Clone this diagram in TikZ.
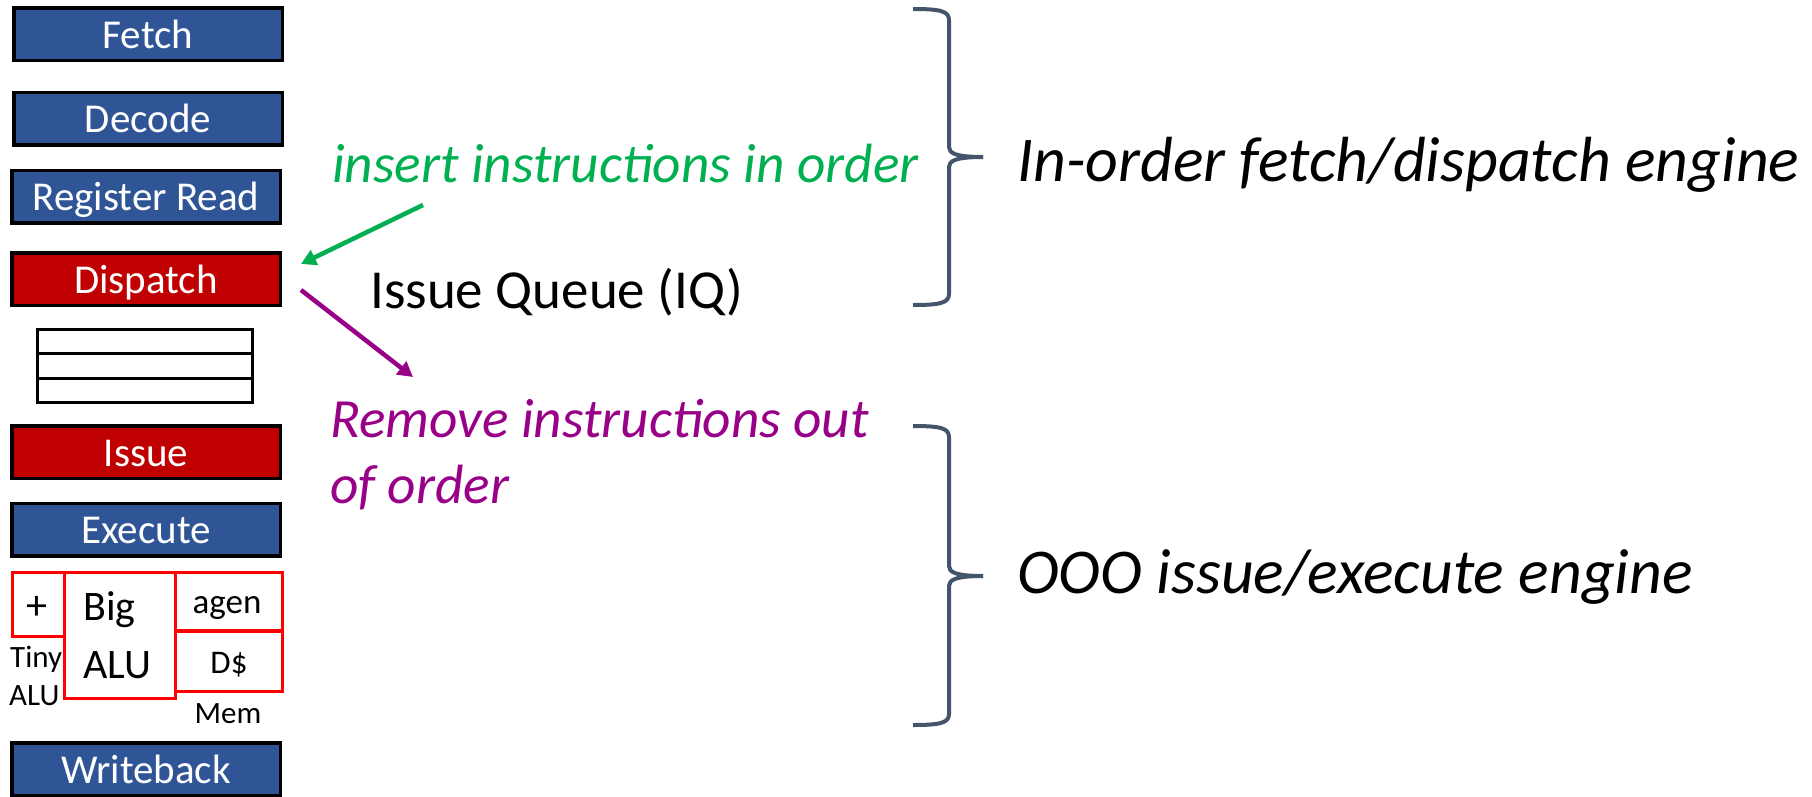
\documentclass[tikz,border=0pt]{standalone}
\usepackage{fontspec}
\setmainfont{Carlito}
\usetikzlibrary{arrows.meta}

\definecolor{stageblue}{HTML}{2F5597}
\definecolor{stagered}{HTML}{C00000}
\definecolor{unitred}{HTML}{FF0000}
\definecolor{insgreen}{HTML}{00B050}
\definecolor{rmpurple}{HTML}{990088}
\definecolor{bracegray}{HTML}{44546A}

\tikzset{
  stage/.style={draw=black, line width=3.5pt, minimum width=268.5pt, minimum height=52.5pt,
    inner sep=0pt, text=white, font=\fontsize{41}{49}\selectfont, text height=28.5pt, text depth=0pt},
  bluestage/.style={stage, fill=stageblue},
  redstage/.style={stage, fill=stagered},
  qrow/.style={draw=black, line width=3pt, minimum width=215pt, minimum height=24.33pt, inner sep=0pt},
  unitbox/.style={draw=unitred, line width=3pt, inner sep=0pt},
  smalllbl/.style={inner sep=0pt, font=\fontsize{31}{37}\selectfont},
  biglbl/.style={inner sep=0pt, font=\fontsize{42}{50}\selectfont},
  note/.style={inner sep=0pt, anchor=base west, font=\fontsize{55}{66}\selectfont},
  slanted note/.style={note, font=\fontsize{55.3}{66}\selectfont\itshape},
  engine/.style={inner sep=0pt, anchor=base west, font=\fontsize{63.8}{76}\selectfont\itshape},
  arr/.style={line width=4.5pt, -{Triangle[length=15pt,width=16pt]}},
  brace/.style={draw=bracegray, line width=4pt, line join=round}
}

\begin{document}
\begin{tikzpicture}[x=1pt, y=-1pt]
\useasboundingbox (0,0) rectangle (1812,796);

% pipeline stages
\node[bluestage] (fetch)    at (148,34)    {Fetch};
\node[bluestage] (decode)   at (148,118.5) {Decode};
\node[bluestage] (regread)  at (146,196.5) {Register Read};
\node[redstage]  (dispatch) at (146,279)   {Dispatch};

% issue queue entries
\node[qrow] (iq1) at (145,341.7) {};
\node[qrow] (iq2) at (145,366)   {};
\node[qrow] (iq3) at (145,390.3) {};

\node[redstage]  (issue)    at (146,452)   {Issue};
\node[bluestage] (execute)  at (146,529.5) {Execute};
\node[bluestage] (wb)       at (146,769)   {Writeback};

% functional units
\node[unitbox, minimum width=51.5pt, minimum height=64pt] (tinyalu) at (38.25,604.5) {};
\node[biglbl] (plus) at (37,608) {+};
\node[unitbox, minimum width=111pt, minimum height=125.5pt] (bigalu) at (119.5,635.25) {};
\node[unitbox, minimum width=107pt, minimum height=57.5pt] (agen) at (228.5,601.25) {};
\node[unitbox, minimum width=107pt, minimum height=60pt] (dcache) at (228.5,661) {};

\node[smalllbl, anchor=base west] (tinylbl) at (10,667) {Tiny};
\node[smalllbl, anchor=base west] (tinylbl2) at (9,705) {ALU};
\node[biglbl, anchor=base west] (biglbl1) at (83,620) {Big};
\node[biglbl, anchor=base west] (biglbl2) at (83,678) {ALU};
\node[smalllbl, anchor=base, font=\fontsize{35}{42}\selectfont] (agenlbl) at (227,613) {agen};
\node[smalllbl, anchor=base, font=\fontsize{33}{40}\selectfont] (dlbl) at (229,673) {D\$};
\node[smalllbl, anchor=base] (memlbl) at (228,723) {Mem};

% annotations
\node[slanted note, text=insgreen] (ins) at (332,182) {insert instructions in order};
\node[note] (iqlbl) at (370,308) {Issue Queue (IQ)};
\node[slanted note, text=rmpurple] (rm1) at (330,437) {Remove instructions out};
\node[slanted note, text=rmpurple] (rm2) at (330,503) {of order};

\coordinate (instail) at (423,205);
\coordinate (instip)  at (301,264);
\coordinate (rmtail)  at (301,290);
\coordinate (rmtip)   at (413,377);
\draw[arr, insgreen] (instail) -- (instip);
\draw[arr, rmpurple] (rmtail) -- (rmtip);

% braces
\draw[brace] (913,9) .. controls (940,9) and (949,11) .. (949,20) -- (949,147)
  .. controls (949,153) and (955,157) .. (983,157);
\draw[brace] (983,157) .. controls (955,157) and (949,161) .. (949,167) -- (949,294)
  .. controls (949,303) and (940,305) .. (913,305);

\draw[brace] (913,426) .. controls (940,426) and (949,428) .. (949,437) -- (949,566)
  .. controls (949,572) and (955,576) .. (983,576);
\draw[brace] (983,576) .. controls (955,576) and (949,580) .. (949,586) -- (949,714)
  .. controls (949,723) and (940,725) .. (913,725);

\node[engine] (inorder) at (1017,181) {In-order fetch/dispatch engine};
\node[engine] (ooo) at (1017,593) {OOO issue/execute engine};
\end{tikzpicture}
\end{document}
